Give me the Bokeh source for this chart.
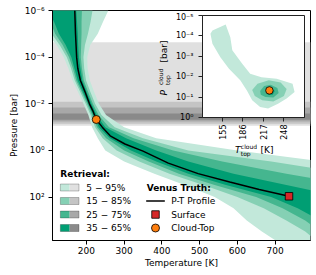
import math
from bokeh.plotting import figure
from bokeh.models import Range1d, FixedTicker, CustomJSTickFormatter, BoxAnnotation, Label
from bokeh.layouts import column
from bokeh.embed import file_html
from bokeh.resources import INLINE

# ---------------- data ----------------
P_GRID = [1e-6, 3e-6, 1e-5, 3e-5, 1e-4, 3e-4, 1e-3, 3e-3, 1e-2, 3e-2, 0.1, 0.3,
          1, 3, 10, 30, 100, 300, 1000, 3000, 10000]
T_LO_05 = [40, 72, 96, 121, 140, 152, 163, 177, 192, 205, 215, 230, 250, 300, 380, 460, 540, 590, 625, 665, 715]
T_LO_15 = [70, 92, 108, 129, 148, 159, 169, 183, 198, 211, 223, 243, 280, 340, 420, 510, 600, 670, 730, 780, 820]
T_LO_25 = [90, 104, 117, 137, 154, 164, 173, 187, 202, 215, 228, 252, 300, 365, 445, 540, 650, 720, 780, 820, 860]
T_LO_35 = [100, 114, 127, 145, 160, 168, 177, 190, 205, 218, 233, 262, 318, 385, 470, 570, 690, 760, 820, 870, 920]
T_HI_35 = [173, 175, 177, 178, 180, 184, 189, 200, 213, 227, 250, 305, 385, 470, 590, 730, 880, 1000, 1100, 1200, 1300]
T_HI_25 = [188, 187, 187, 186, 185, 188, 193, 204, 217, 232, 260, 325, 430, 560, 730, 900, 1050, 1200, 1300, 1400, 1500]
T_HI_15 = [216, 211, 204, 196, 192, 194, 199, 210, 223, 240, 275, 350, 470, 690, 900, 1100, 1300, 1450, 1600, 1700, 1800]
T_HI_05 = [258, 244, 230, 210, 202, 203, 209, 220, 233, 252, 300, 385, 600, 830, 1100, 1350, 1600, 1800, 2000, 2200, 2400]

P_TRUTH = [1e-6, 1e-5, 1e-4, 3e-4, 1e-3, 3e-3, 1e-2, 2e-2, 4.7e-2, 0.1, 0.236, 0.53, 1.07, 3.5, 9.85, 22.5, 47.4, 92]
T_TRUTH = [169, 171, 174, 177, 184, 196, 208, 217, 226, 242, 263, 302, 350, 417, 496, 580, 658, 737]

SURFACE_T, SURFACE_P = [737], [92]
CLOUD_T, CLOUD_P = [226], [0.047]

BAND_LABELS = ["5 \u2212 95%", "15 \u2212 85%", "25 \u2212 75%", "35 \u2212 65%"]
CT_P_LO = [2.3e-5, 8.1e-3, 0.0145, 0.0263]
CT_P_HI = [0.087, 0.071, 0.0575, 0.0479]

X_TICKS = [200, 300, 400, 500, 600, 700]
Y_TICKS = [1e-6, 1e-4, 1e-2, 1, 100]
INSET_X_TICKS = [155, 186, 217, 248]
INSET_Y_TICKS = [1e-5, 1e-4, 1e-3, 1e-2, 1e-1, 1]

# inset 2-D posterior contours (T_top, P_top)
C1_T = [140, 160, 167, 170, 185, 197, 214, 237, 261, 264, 252, 239, 224, 212, 200, 192, 182, 165, 152, 140, 137]
C1_P = [5.4e-5, 2.8e-5, 1.15e-4, 5.1e-4, 2.3e-3, 7.1e-3, 0.0105, 0.0126, 0.022, 0.056, 0.117, 0.209,
        0.363, 0.302, 0.141, 0.047, 0.0151, 4.1e-3, 1.1e-3, 2.4e-4, 7.9e-5]
C2_T = [200, 208, 225, 243, 252, 248, 232, 215, 204]
C2_P = [0.0447, 0.0224, 0.0151, 0.0191, 0.0398, 0.0891, 0.166, 0.141, 0.0891]
C3_T = [212, 218, 228, 238, 240, 232, 220, 213]
C3_P = [0.0501, 0.0282, 0.0251, 0.0355, 0.0631, 0.105, 0.1, 0.0759]
C4_T = [220, 224, 230, 234, 231, 224]
C4_P = [0.0501, 0.038, 0.038, 0.0501, 0.0759, 0.0794]

GREENS = ["#c2e8da", "#85d0b4", "#45b68f", "#009e73"]
GRAYS = ["#e0e0e0", "#c4c4c4", "#a8a8a8", "#8a8a8a"]
FONT = "DejaVu Sans"

# ---------------- main figure ----------------
X0, X1 = 110, 794
LOG_TOP, LOG_BOT = -6, 3.86
FL, FR, FT, FB = 47, 310, 10, 240  # frame in page pixels


def mx(px):
    return X0 + (px - FL) * (X1 - X0) / (FR - FL)


def my(py):
    return 10 ** (LOG_TOP + (py - FT) * (LOG_BOT - LOG_TOP) / (FB - FT))


fig = figure(width=314, height=273, x_range=Range1d(X0, X1),
             y_range=Range1d(10 ** LOG_BOT, 10 ** LOG_TOP), y_axis_type="log",
             output_backend="svg", toolbar_location=None,
             min_border_left=FL, min_border_right=314 - FR, min_border_top=FT,
             min_border_bottom=273 - FB)
fig.grid.visible = False
fig.background_fill_color = "white"
fig.border_fill_color = "white"
fig.outline_line_color = "black"
fig.outline_line_width = 1

sup_code = """
const s = {"-":"\u207b","0":"\u2070","1":"\u00b9","2":"\u00b2","3":"\u00b3","4":"\u2074",
           "5":"\u2075","6":"\u2076","7":"\u2077","8":"\u2078","9":"\u2079"};
const e = Math.round(Math.log10(tick));
return "10" + String(e).split("").map(c => s[c]).join("");
"""

for ax in (fig.xaxis[0], fig.yaxis[0]):
    ax.axis_line_color = "black"
    ax.major_tick_line_color = "black"
    ax.minor_tick_line_color = None
    ax.major_tick_out = 4
    ax.major_tick_in = 0
    ax.major_label_text_font = FONT
    ax.major_label_text_font_size = "9px"
    ax.major_label_text_color = "black"
    ax.axis_label_text_font = FONT
    ax.axis_label_text_font_size = "9px"
    ax.axis_label_text_font_style = "normal"
    ax.axis_label_text_color = "black"
fig.xaxis.ticker = FixedTicker(ticks=X_TICKS)
fig.xaxis.major_label_standoff = 2
fig.xaxis.axis_label = "Temperature [K]"
fig.xaxis.axis_label_standoff = 1
fig.yaxis.ticker = FixedTicker(ticks=Y_TICKS)
fig.yaxis.formatter = CustomJSTickFormatter(code=sup_code)
fig.yaxis.major_label_standoff = 4
fig.yaxis.axis_label = "Pressure [bar]"
fig.yaxis.axis_label_standoff = 3

# cloud-top pressure bands (grey)
for lo, hi, c in zip(CT_P_LO, CT_P_HI, GRAYS):
    fig.add_layout(BoxAnnotation(bottom=hi, top=lo, fill_color=c, fill_alpha=1,
                                 line_color=None, level="underlay"))

# retrieved T-P percentile bands (green)
for lo, hi, c in zip([T_LO_05, T_LO_15, T_LO_25, T_LO_35],
                     [T_HI_05, T_HI_15, T_HI_25, T_HI_35], GREENS):
    fig.harea(x1=lo, x2=hi, y=P_GRID, fill_color=c, fill_alpha=1)

fig.line(T_TRUTH, P_TRUTH, line_color="black", line_width=1.5)
fig.scatter(SURFACE_T, SURFACE_P, marker="square", size=7.5, fill_color="#d62728",
            line_color="black", line_width=0.8)
fig.scatter(CLOUD_T, CLOUD_P, marker="circle", size=8, fill_color="#ff7f0e",
            line_color="black", line_width=0.8)

# legend: Retrieval
ROW_Y = [187, 200.5, 214, 227.5]
fig.add_layout(Label(x=mx(55), y=my(173), text="Retrieval:", text_font=FONT,
                     text_font_style="bold", text_font_size="9px", text_align="left",
                     text_baseline="middle", text_color="black"))
for ry, g, gr, lab in zip(ROW_Y, GREENS, GRAYS, BAND_LABELS):
    fig.add_layout(BoxAnnotation(left=mx(55), right=mx(64.5), top=my(ry - 3.5), bottom=my(ry + 3.5),
                                 fill_color=g, fill_alpha=1, line_color=None))
    fig.add_layout(BoxAnnotation(left=mx(64.5), right=mx(74), top=my(ry - 3.5), bottom=my(ry + 3.5),
                                 fill_color=gr, fill_alpha=1, line_color=None))
    fig.add_layout(BoxAnnotation(left=mx(55), right=mx(74), top=my(ry - 3.5), bottom=my(ry + 3.5),
                                 fill_color=None, line_color="black", line_width=0.8))
    fig.add_layout(Label(x=mx(81.5), y=my(ry), text=lab, text_font=FONT, text_font_size="9px",
                         text_align="left", text_baseline="middle", text_color="black"))

# legend: Venus Truth
fig.add_layout(Label(x=mx(143), y=my(187), text="Venus Truth:", text_font=FONT,
                     text_font_style="bold", text_font_size="9px", text_align="left",
                     text_baseline="middle", text_color="black"))
fig.line([mx(142.5), mx(161.5)], [my(200.5), my(200.5)], line_color="black", line_width=1.5)
fig.scatter([mx(152)], [my(214)], marker="square", size=7.5, fill_color="#d62728",
            line_color="black", line_width=0.8)
fig.scatter([mx(152)], [my(227.5)], marker="circle", size=8, fill_color="#ff7f0e",
            line_color="black", line_width=0.8)
for ry, lab in zip(ROW_Y[1:], ["P-T Profile", "Surface", "Cloud-Top"]):
    fig.add_layout(Label(x=mx(168), y=my(ry), text=lab, text_font=FONT, text_font_size="9px",
                         text_align="left", text_baseline="middle", text_color="black"))

# inset axis titles (drawn on the main canvas, underneath the transparent inset border)
lab_kw = dict(text_font=FONT, text_color="black", text_baseline="middle")
fig.add_layout(Label(x=mx(233), y=my(149), text="T", text_font_style="italic",
                     text_font_size="9px", text_align="left", **lab_kw))
fig.add_layout(Label(x=mx(239), y=my(145.5), text="cloud", text_font_size="6px",
                     text_align="left", **lab_kw))
fig.add_layout(Label(x=mx(239), y=my(153), text="top", text_font_size="6px",
                     text_align="left", **lab_kw))
fig.add_layout(Label(x=mx(259), y=my(149), text="[K]", text_font_size="9px",
                     text_align="left", **lab_kw))
fig.add_layout(Label(x=mx(160.5), y=my(95), text="P", text_font_style="italic", angle=math.pi / 2,
                     text_font_size="9px", text_align="left", **lab_kw))
fig.add_layout(Label(x=mx(157), y=my(84.5), text="cloud", angle=math.pi / 2,
                     text_font_size="6px", text_align="left", **lab_kw))
fig.add_layout(Label(x=mx(164.5), y=my(84.5), text="top", angle=math.pi / 2,
                     text_font_size="6px", text_align="left", **lab_kw))
fig.add_layout(Label(x=mx(160.5), y=my(62), text="[bar]", angle=math.pi / 2,
                     text_font_size="9px", text_align="left", **lab_kw))

# ---------------- inset ----------------
IX0, IX1 = 125, 279
INSET_LEFT, INSET_TOP = 150, 12

inset = figure(width=158, height=147, x_range=Range1d(IX0, IX1), y_range=Range1d(1, 1e-5),
               y_axis_type="log", output_backend="svg", toolbar_location=None,
               min_border_left=52, min_border_right=3, min_border_top=3, min_border_bottom=42)
inset.grid.visible = False
inset.background_fill_color = "white"
inset.border_fill_color = None
inset.border_fill_alpha = 0
inset.outline_line_color = "#222222"
inset.outline_line_width = 1
for ax in (inset.xaxis[0], inset.yaxis[0]):
    ax.axis_line_color = "#222222"
    ax.major_tick_line_color = "#222222"
    ax.minor_tick_line_color = None
    ax.major_tick_out = 4
    ax.major_tick_in = 0
    ax.major_label_text_font = FONT
    ax.major_label_text_font_size = "8px"
    ax.major_label_text_color = "black"
inset.xaxis.ticker = FixedTicker(ticks=INSET_X_TICKS)
inset.xaxis.major_label_orientation = math.pi / 2
inset.xaxis.major_label_standoff = 3
inset.yaxis.ticker = FixedTicker(ticks=INSET_Y_TICKS)
inset.yaxis.formatter = CustomJSTickFormatter(code=sup_code)
inset.yaxis.major_label_standoff = 5

for ts, ps, c in zip([C1_T, C2_T, C3_T, C4_T], [C1_P, C2_P, C3_P, C4_P], GREENS):
    inset.patch(ts, ps, fill_color=c, fill_alpha=1, line_color=None)
inset.scatter(CLOUD_T, CLOUD_P, marker="circle", size=7.5, fill_color="#ff7f0e",
              line_color="black", line_width=0.8)

inset.styles = {"position": "absolute", "left": f"{INSET_LEFT}px", "top": f"{INSET_TOP}px"}

p = column(fig, inset)
open("out.html", "w").write(file_html(p, INLINE))
